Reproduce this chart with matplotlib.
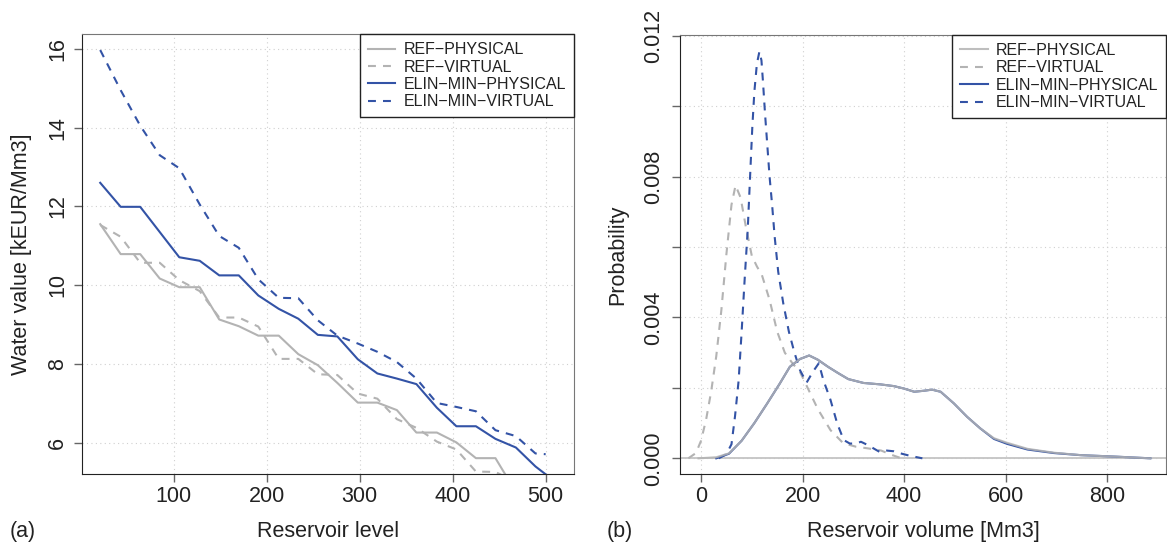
import numpy as np
import matplotlib.pyplot as plt

plt.rcParams['font.family'] = ['Liberation Sans', 'DejaVu Sans']

# ---- (a) water value vs reservoir level ----
level = [21, 43, 64, 85, 106, 128, 149, 170, 191, 213, 234, 255,
         276, 298, 319, 340, 361, 383, 404, 425, 446, 468, 489, 500]
wv_ref_phys = [11.55, 10.79, 10.79, 10.17, 9.95, 9.95, 9.13, 8.96, 8.72, 8.72, 8.25, 7.97,
               7.52, 7.02, 7.02, 6.83, 6.26, 6.26, 6.01, 5.61, 5.61, 4.75, np.nan, np.nan]
wv_ref_virt = [11.53, 11.23, 10.57, 10.57, 10.13, 9.85, 9.18, 9.18, 8.95, 8.13, 8.13, 7.74,
               7.72, 7.25, 7.12, 6.60, 6.38, 6.03, 5.83, 5.27, 5.26, 5.00, np.nan, np.nan]
wv_elin_phys = [12.60, 11.99, 11.99, 11.35, 10.71, 10.62, 10.25, 10.25, 9.74, 9.40, 9.15, 8.74,
                8.70, 8.12, 7.76, 7.63, 7.49, 6.89, 6.42, 6.42, 6.10, 5.88, 5.40, 5.20]
wv_elin_virt = [15.97, 14.95, 14.05, 13.30, 12.97, 12.05, 11.25, 10.95, 10.15, 9.68, 9.67, 9.11,
                8.72, 8.52, 8.31, 8.05, 7.63, 7.01, 6.91, 6.80, 6.32, 6.17, 5.73, 5.71]

# ---- (b) density of reservoir volume ----
vol_ref_phys = [-5, 30, 55, 80, 105, 130, 155, 175, 195, 213, 230, 250, 270, 290, 320, 353,
                380, 400, 420, 440, 455, 472, 498, 524, 550, 577, 603, 643, 695, 748, 814, 885]
den_ref_phys = [0, 0.03, 0.14, 0.5, 1.0, 1.55, 2.12, 2.6, 2.82, 2.92, 2.8, 2.6, 2.42, 2.25, 2.14, 2.1,
                2.05, 1.98, 1.89, 1.92, 1.95, 1.89, 1.56, 1.18, 0.85, 0.57, 0.44, 0.27, 0.16, 0.09, 0.05, 0.0]
vol_elin_phys = [30, 55, 80, 105, 130, 155, 175, 195, 213, 230, 250, 270, 290, 320, 353,
                 380, 400, 420, 440, 455, 472, 498, 524, 550, 577, 603, 643, 695, 748, 814, 885]
den_elin_phys = [0, 0.13, 0.5, 1.0, 1.55, 2.12, 2.6, 2.82, 2.92, 2.8, 2.6, 2.42, 2.25, 2.14, 2.1,
                 2.05, 1.98, 1.89, 1.92, 1.95, 1.89, 1.56, 1.18, 0.85, 0.55, 0.41, 0.25, 0.15, 0.09, 0.05, 0.0]
vol_ref_virt = [-25, -10, 0, 10, 20, 30, 40, 50, 60, 68, 78, 88, 100, 110, 120, 135, 150,
                165, 180, 195, 210, 230, 255, 280, 305, 330, 355, 375, 395]
den_ref_virt = [0, 0.15, 0.5, 1.1, 1.9, 2.9, 4.2, 5.8, 7.2, 7.75, 7.4, 6.6, 5.75, 5.45, 5.2, 4.5, 3.6,
                3.0, 2.7, 2.45, 2.0, 1.4, 0.8, 0.43, 0.33, 0.28, 0.22, 0.1, 0.0]
vol_elin_virt = [35, 50, 60, 67, 74, 80, 86, 92, 96, 101, 105, 110, 115, 119, 122, 126, 130,
                 135, 140, 145, 152, 162, 173, 184, 195, 208, 220, 232, 241, 255, 268, 281,
                 293, 305, 315, 328, 340, 352, 366, 380, 393, 412, 436]
den_elin_virt = [0, 0.12, 0.4, 1.2, 2.2, 3.6, 5.1, 6.5, 7.8, 9.4, 10.4, 11.2, 11.55, 11.3, 10.7, 9.8, 9.0,
                 8.0, 7.2, 6.3, 5.3, 4.4, 3.6, 3.0, 2.5, 2.15, 2.45, 2.7, 2.22, 1.66, 1.0, 0.52,
                 0.42, 0.42, 0.47, 0.38, 0.28, 0.18, 0.22, 0.2, 0.14, 0.07, 0.0]

labels = ['REF\u2212PHYSICAL', 'REF\u2212VIRTUAL', 'ELIN\u2212MIN\u2212PHYSICAL', 'ELIN\u2212MIN\u2212VIRTUAL']

GRAY = '#b3b3b3'
BLUE = '#3353a6'
LW = 1.5
DASH = (3.8, 3.4)


def style(ax):
    ax.grid(True, color='#d0d0d0', linestyle=(0, (1, 3)), linewidth=0.8)
    ax.set_axisbelow(True)
    for s in ['left', 'bottom']:
        ax.spines[s].set_color('#222222')
    for s in ['top', 'right']:
        ax.spines[s].set_color('#777777')
    ax.tick_params(direction='out', length=5.8, width=1, color='#666666',
                   labelsize=15.5, labelcolor='#222222')
    ax.tick_params(axis='x', pad=2.5)
    ax.tick_params(axis='y', pad=4.5, labelrotation=90)
    for t in ax.get_yticklabels():
        t.set_va('center')


def add_legend(ax):
    leg = ax.legend(loc='upper right', bbox_to_anchor=(1, 1), borderaxespad=0,
                    fancybox=False, edgecolor='#222222', framealpha=1, fontsize=11.5,
                    handlelength=1.7, handletextpad=0.5, borderpad=0.5, labelspacing=0.15)
    leg.get_frame().set_linewidth(1.0)
    for t in leg.get_texts():
        t.set_color('#222222')


fig = plt.figure(figsize=(11.67, 5.46), dpi=100)
ax1 = fig.add_axes([0.0705, 0.1313, 0.4213, 0.8059])
ax2 = fig.add_axes([0.5827, 0.1313, 0.4165, 0.8046])

# (a)
ax1.plot(level, wv_ref_phys, color=GRAY, lw=LW, label=labels[0])
ax1.plot(level, wv_ref_virt, color=GRAY, lw=LW, ls='--', dashes=DASH, label=labels[1])
ax1.plot(level, wv_elin_phys, color=BLUE, lw=LW, label=labels[2])
ax1.plot(level, wv_elin_virt, color=BLUE, lw=LW, ls='--', dashes=DASH, label=labels[3])
ax1.set_xlim(1.7, 530.4)
ax1.set_ylim(5.2, 16.37)
ax1.set_xticks([100, 200, 300, 400, 500])
ax1.set_yticks([6, 8, 10, 12, 14, 16])
style(ax1)
add_legend(ax1)
ax1.set_xlabel('Reservoir level', fontsize=15.5, color='#222222', va='center')
ax1.xaxis.set_label_coords(0.5, -0.131)
ax1.set_ylabel('Water value [kEUR/Mm3]', fontsize=15.5, color='#222222', va='center')
ax1.yaxis.set_label_coords(-0.1226, 0.5)

# (b)
ax2.axhline(0, color='#c4c4c4', lw=1.3, zorder=1.5)
ax2.plot(vol_ref_phys, np.array(den_ref_phys) / 1000, color=GRAY, lw=LW, alpha=0.85,
         zorder=3, label=labels[0])
ax2.plot(vol_ref_virt, np.array(den_ref_virt) / 1000, color=GRAY, lw=LW, ls='--', dashes=DASH,
         label=labels[1])
ax2.plot(vol_elin_phys, np.array(den_elin_phys) / 1000, color=BLUE, lw=LW, label=labels[2])
ax2.plot(vol_elin_virt, np.array(den_elin_virt) / 1000, color=BLUE, lw=LW, ls='--', dashes=DASH,
         label=labels[3])
ax2.set_xlim(-41.4, 916)
ax2.set_ylim(-0.000454, 0.01202)
ax2.set_xticks([0, 200, 400, 600, 800])
yt = [0, 0.002, 0.004, 0.006, 0.008, 0.010, 0.012]
ax2.set_yticks(yt)
ax2.set_yticklabels(['%.3f' % v if i % 2 == 0 else '' for i, v in enumerate(yt)])
style(ax2)
ax2.tick_params(axis='y', pad=5.5)
add_legend(ax2)
ax2.set_xlabel('Reservoir volume [Mm3]', fontsize=15.5, color='#222222', va='center')
ax2.xaxis.set_label_coords(0.5, -0.1313)
ax2.set_ylabel('Probability', fontsize=15.5, color='#222222', va='center')
ax2.yaxis.set_label_coords(-0.1276, 0.5)

fig.text(10 / 1167, 1 - 532 / 546, '(a)', fontsize=15.5, color='#222222', ha='left', va='center')
fig.text(607 / 1167, 1 - 532 / 546, '(b)', fontsize=15.5, color='#222222', ha='left', va='center')

fig.savefig('out.png', dpi=100)
